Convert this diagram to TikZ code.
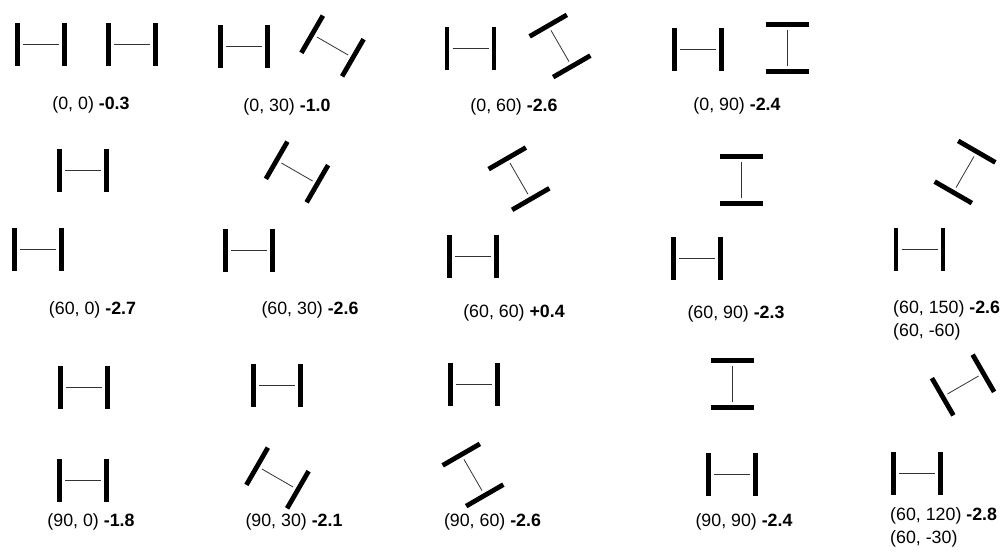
\documentclass[tikz,border=0pt]{standalone}
\usepackage{fontspec}
\setmainfont{Liberation Sans}
\usetikzlibrary{positioning}
\tikzset{
  mol/.pic={
    \draw[line width=4.8pt] (-23.5,-21.5) -- (-23.5,21.5);
    \draw[line width=4.8pt] (23.5,-21.5) -- (23.5,21.5);
    \draw[line width=0.8pt, black!80] (-18,0) -- (18,0);
  },
  lab/.style={font=\fontsize{17.8}{21}\selectfont, inner sep=0pt},
}

\begin{document}
\begin{tikzpicture}[x=1pt, y=-1pt]
    \useasboundingbox (0,0) rectangle (1006,552);
    % pairs: plain molecule at (ax,ay), turned one at (bx,by)
    \foreach \ax/\ay/\bx/\by/\rot/\lx/\ly/\txt/\val [count=\n] in {
        41.25/44.5/132/44.5/0/91/105/{(0, 0)}/-0.3,
        244/46.5/332.5/46/-30/287/107/{(0, 30)}/-1.0,
        470.5/48.5/560/46/-60/514/107/{(0, 60)}/-2.6,
        698/49/787/48/90/737/106/{(0, 90)}/-2.4,
        38.25/249/83/170/0/92.5/310/{(60, 0)}/-2.7,
        249/250/297/172/-30/310/310/{(60, 30)}/-2.6,
        473/256/519/178.7/-60/514/313/{(60, 60)}/+0.4,
        697/258.5/741.5/180/90/736/314/{(60, 90)}/-2.3,
        83.25/480.5/84/387.5/0/91/522/{(90, 0)}/-1.8,
        277/385/277.5/478/-30/294/522/{(90, 30)}/-2.1,
        474/384/473/475/-60/492.5/522/{(90, 60)}/-2.6,
        732/474.5/732.5/384/90/744/522/{(90, 90)}/-2.4} {
        \pic at (\ax,\ay) {mol};
        \pic[rotate=\rot] at (\bx,\by) {mol};
        \node[lab] (score\n) at (\lx,\ly) {\txt{} \textbf{\val}};
    }
    % right column: two names for one pair
    \pic at (919.5,249) {mol};
    \pic[rotate=60] at (965,172) {mol};
    \node[lab, anchor=west] (scoreA) at (893,309) {(60, 150) \textbf{-2.6}};
    \node[lab, anchor=west] (scoreAalt) at (893,332) {(60, -60)};
    \pic at (917,473.5) {mol};
    \pic[rotate=30] at (963,385) {mol};
    \node[lab, anchor=west] (scoreB) at (890,516) {(60, 120) \textbf{-2.8}};
    \node[lab, anchor=west] (scoreBalt) at (890,539) {(60, -30)};
\end{tikzpicture}
\end{document}
